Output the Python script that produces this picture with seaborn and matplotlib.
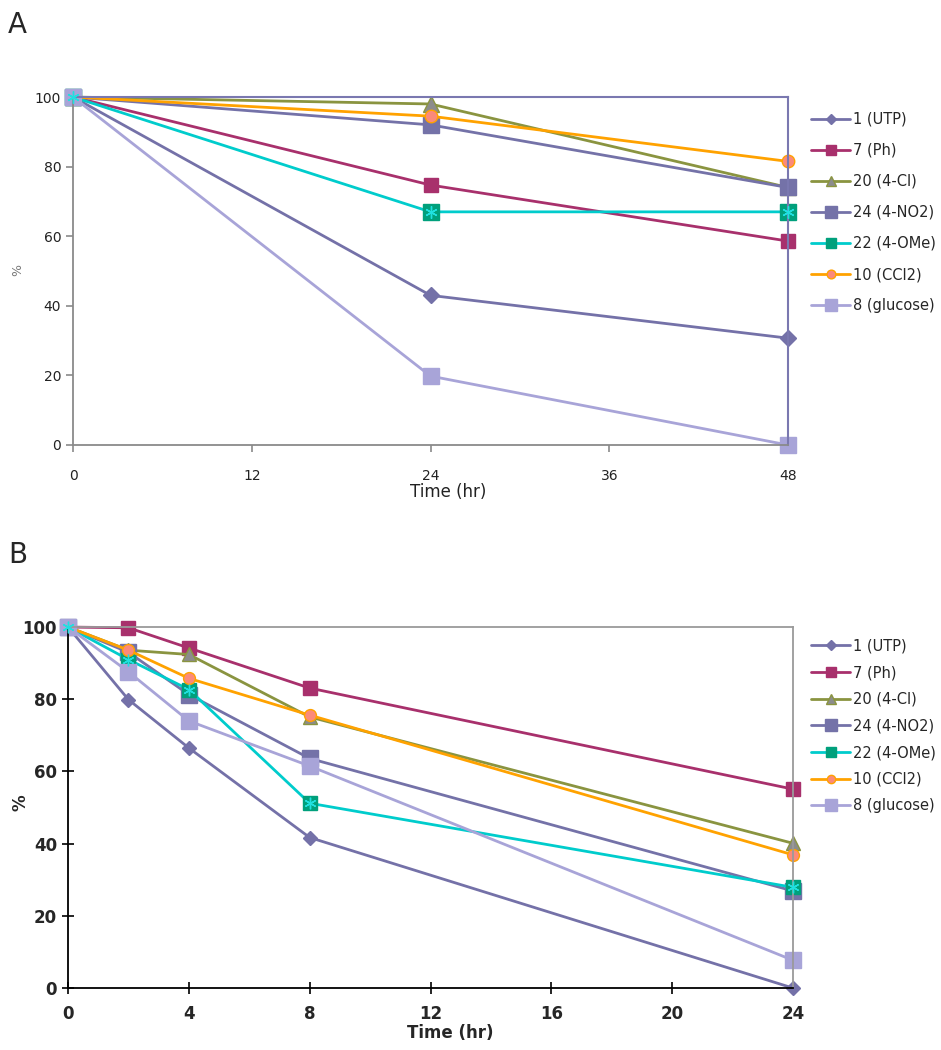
import pandas as pd
import seaborn as sns
import matplotlib.pyplot as plt

# compound names, legend order
compounds = ["1 (UTP)", "7 (Ph)", "20 (4-Cl)", "24 (4-NO2)", "22 (4-OMe)", "10 (CCl2)", "8 (glucose)"]

# panel A: sampled at 0, 24, 48 hr
time_a = [0, 24, 48]
pct_a = {
    "1 (UTP)": [100, 43, 30.7],
    "7 (Ph)": [100, 74.7, 58.6],
    "20 (4-Cl)": [100, 98, 74],
    "24 (4-NO2)": [100, 92, 74],
    "22 (4-OMe)": [100, 67, 67],
    "10 (CCl2)": [100, 94.5, 81.5],
    "8 (glucose)": [100, 19.8, 0],
}

# panel B: sampled at 0, 2, 4, 8, 24 hr
time_b = [0, 2, 4, 8, 24]
pct_b = {
    "1 (UTP)": [100, 79.9, 66.5, 41.7, 0],
    "7 (Ph)": [100, 99.8, 94.2, 83.1, 55.1],
    "20 (4-Cl)": [100, 93.6, 92.4, 75.1, 40.1],
    "24 (4-NO2)": [100, 93.0, 81.3, 63.6, 26.9],
    "22 (4-OMe)": [100, 91.0, 82.7, 51.2, 27.9],
    "10 (CCl2)": [100, 93.6, 85.8, 75.6, 36.9],
    "8 (glucose)": [100, 87.6, 74.0, 61.5, 7.7],
}

# line colour, marker, face colour, edge colour, marker size
styles = {
    "1 (UTP)": ("#7471a8", "D", "#7471a8", "#7471a8", 8),
    "7 (Ph)": ("#a8306c", "s", "#a8306c", "#a8306c", 10),
    "20 (4-Cl)": ("#8a9440", "^", "#8c8c8c", "#8a9440", 11),
    "24 (4-NO2)": ("#7472a8", "s", "#7472a8", "#7472a8", 12),
    "22 (4-OMe)": ("#00cccc", "s", "#00a07c", "#00a07c", 11),
    "10 (CCl2)": ("#ffa200", "o", "#fb8a7a", "#ffa200", 9),
    "8 (glucose)": ("#a8a4d8", "s", "#a8a4d8", "#a8a4d8", 12),
}

sns.set_style("white")
plt.rcParams["font.family"] = ["DejaVu Sans"]

fig = plt.figure(figsize=(9.41, 10.5), dpi=100)


def draw(ax, times, data, lw, scale):
    for name in compounds:
        col, mk, fc, ec, ms = styles[name]
        df = pd.DataFrame({"t": times, "v": data[name]})
        sns.lineplot(data=df, x="t", y="v", ax=ax, color=col, lw=lw, marker=mk,
                     markersize=ms * scale, markerfacecolor=fc, markeredgecolor=ec,
                     markeredgewidth=1, label=name, clip_on=False, legend=False)
        if name == "22 (4-OMe)":
            # asterisk drawn over the square
            ax.plot(times, data[name], ls="", marker=(6, 2, 0), ms=ms * scale * 0.8,
                    mec="#20e0e0", mew=1, clip_on=False, zorder=5)


# ---------------- panel A
axa = fig.add_axes([0.0776, 0.5762, 0.7598, 0.3314])
draw(axa, time_a, pct_a, 2.0, 1.0)
axa.set_xlim(0, 48)
axa.set_ylim(0, 100)
axa.set_xticks([0, 12, 24, 36, 48])
axa.set_yticks(range(0, 101, 20))
axa.set_xlabel("")
axa.set_ylabel("")
for s in ["left", "bottom"]:
    axa.spines[s].set_color("#8a8a8a")
    axa.spines[s].set_linewidth(1.3)
for s in ["top", "right"]:
    axa.spines[s].set_color("#7a78b0")
    axa.spines[s].set_linewidth(1.5)
axa.tick_params(axis="both", direction="out", length=5, width=1.2, color="#8a8a8a",
                labelsize=10, labelcolor="#222222", left=True, bottom=True)
axa.tick_params(axis="x", pad=12)
hA, lA = axa.get_legend_handles_labels()
fig.legend(hA, lA, loc="upper left", bbox_to_anchor=(0.848, 0.906), frameon=False,
           fontsize=10.5, handlelength=2.7, labelspacing=1.1, handletextpad=0.15,
           markerscale=0.7)
fig.text(448 / 941, 1 - 492 / 1050, "Time (hr)", ha="center", va="center", fontsize=12,
         color="#222222")
fig.text(18 / 941, 1 - 270 / 1050, "%", rotation=90, ha="center", va="center",
         fontsize=9, color="#777777")
fig.text(8 / 941, 1 - 25 / 1050, "A", fontsize=20, ha="left", va="center")

# ---------------- panel B
axb = fig.add_axes([0.0723, 0.0590, 0.7704, 0.3438])
draw(axb, time_b, pct_b, 2.0, 0.95)
axb.set_xlim(0, 24)
axb.set_ylim(0, 100)
axb.set_xticks([0, 4, 8, 12, 16, 20, 24])
axb.set_yticks(range(0, 101, 20))
axb.set_xlabel("")
axb.set_ylabel("")
for s in ["left", "bottom"]:
    axb.spines[s].set_color("black")
    axb.spines[s].set_linewidth(1.3)
for s in ["top", "right"]:
    axb.spines[s].set_color("#9a9a9a")
    axb.spines[s].set_linewidth(1.3)
axb.tick_params(axis="both", direction="inout", length=9, width=1.2, color="black",
                labelsize=12, left=True, bottom=True)
axb.tick_params(axis="x", pad=8)
for lab in axb.get_xticklabels() + axb.get_yticklabels():
    lab.set_fontweight("bold")
hB, lB = axb.get_legend_handles_labels()
fig.legend(hB, lB, loc="upper left", bbox_to_anchor=(0.848, 0.4045), frameon=False,
           fontsize=10.5, handlelength=2.7, labelspacing=0.8, handletextpad=0.15,
           markerscale=0.7)
fig.text(450 / 941, 1 - 1033 / 1050, "Time (hr)", ha="center", va="center", fontsize=12,
         fontweight="bold")
fig.text(20 / 941, 1 - 803 / 1050, "%", rotation=90, ha="center", va="center",
         fontsize=12, fontweight="bold")
fig.text(8 / 941, 1 - 555 / 1050, "B", fontsize=20, ha="left", va="center")

fig.savefig("out.png", dpi=100)
